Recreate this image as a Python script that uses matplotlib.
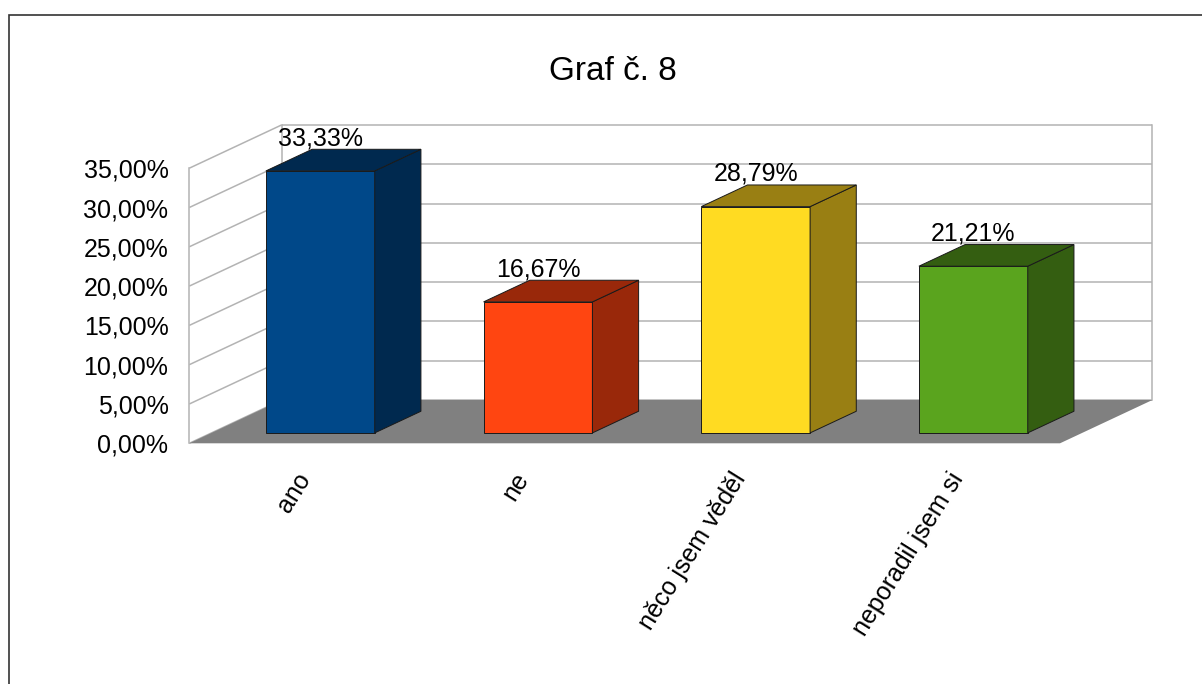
import matplotlib
matplotlib.use("Agg")
import matplotlib.pyplot as plt
from matplotlib.patches import Polygon, Rectangle
from matplotlib.transforms import offset_copy

# ---- data ----
categories = ["ano", "ne", "něco jsem věděl", "neporadil jsem si"]
values = [33.33, 16.67, 28.79, 21.21]
value_labels = ["33,33%", "16,67%", "28,79%", "21,21%"]
yticks = [0, 5, 10, 15, 20, 25, 30, 35]
ytick_labels = ["0,00%", "5,00%", "10,00%", "15,00%", "20,00%", "25,00%", "30,00%", "35,00%"]
title = "Graf č. 8"

# ---- style ----
front_colors = ["#004889", "#ff4511", "#ffdb22", "#5aa41e"]
dark_colors = ["#00294f", "#99280a", "#997f13", "#345e11"]
floor_color = "#808080"
grid_color = "#b3b3b3"
FONT = ["Liberation Sans", "DejaVu Sans"]
plt.rcParams["font.family"] = FONT

W_PX, H_PX = 1202, 684
fig = plt.figure(figsize=(W_PX / 100, H_PX / 100), dpi=100)

# front plane of the 3D box (pixel geometry of the reference)
x0_px, x1_px = 189.3, 1060.0
y0_px, y35_px = 443.3, 168.2
ax = fig.add_axes([x0_px / W_PX, 1 - y0_px / H_PX,
                   (x1_px - x0_px) / W_PX, (y0_px - y35_px) / H_PX])
ncat = len(categories)
ymax = 35
ax.set_xlim(0, ncat)
ax.set_ylim(0, ymax)
for s in ax.spines.values():
    s.set_visible(False)
ax.patch.set_visible(False)

px_per_x = (x1_px - x0_px) / ncat
px_per_y = (y0_px - y35_px) / ymax
DX = 92.4 / px_per_x      # depth offset (data units)
DY = 43.3 / px_per_y

# back wall / side wall gridlines
for t in yticks:
    ax.plot([DX, ncat + DX], [t + DY, t + DY], color=grid_color, lw=1.1,
            clip_on=False, zorder=1, solid_capstyle="butt")
    ax.plot([0, DX], [t, t + DY], color=grid_color, lw=1.1,
            clip_on=False, zorder=1, solid_capstyle="butt")
# wall edges
ax.plot([0, 0], [0, ymax], color=grid_color, lw=1.1, clip_on=False, zorder=1)
ax.plot([DX, DX], [DY, ymax + DY], color=grid_color, lw=1.1, clip_on=False, zorder=1)
ax.plot([ncat + DX, ncat + DX], [DY, ymax + DY], color=grid_color, lw=1.1,
        clip_on=False, zorder=1)

# floor
ax.add_patch(Polygon([(0, 0), (ncat, 0), (ncat + DX, DY), (DX, DY)],
                     closed=True, facecolor=floor_color, edgecolor="none",
                     clip_on=False, zorder=2))

# bars
z0, z1 = 0.24, 0.74
bw = 0.5
edge_kw = dict(edgecolor="#1a1a1a", linewidth=0.7, clip_on=False, zorder=3,
               joinstyle="miter")
lbl_tr = offset_copy(ax.transData, fig=fig, x=0, y=4, units="dots")
for i, v in enumerate(values):
    xl = i + (1 - bw) / 2 + z0 * DX
    xr = xl + bw
    yb = z0 * DY
    yt = v + z0 * DY
    ddx = (z1 - z0) * DX
    ddy = (z1 - z0) * DY
    ax.add_patch(Polygon([(xl, yb), (xr, yb), (xr, yt), (xl, yt)],
                         facecolor=front_colors[i], **edge_kw))
    ax.add_patch(Polygon([(xr, yb), (xr + ddx, yb + ddy), (xr + ddx, yt + ddy), (xr, yt)],
                         facecolor=dark_colors[i], **edge_kw))
    ax.add_patch(Polygon([(xl, yt), (xr, yt), (xr + ddx, yt + ddy), (xl + ddx, yt + ddy)],
                         facecolor=dark_colors[i], **edge_kw))
    ax.text((xl + xr) / 2, v + z1 * DY, value_labels[i], transform=lbl_tr,
            ha="center", va="baseline", fontsize=18, color="black", zorder=5)

# y tick labels
ax.set_yticks(yticks)
ax.set_yticklabels(ytick_labels)
ax.tick_params(axis="y", length=0, pad=15, labelsize=18)
ax.set_xticks([])

# category labels
cat_tr = offset_copy(ax.transData, fig=fig, x=-3, y=-25, units="dots")
for i, c in enumerate(categories):
    ax.text(i + 0.5, 0, c, transform=cat_tr, rotation=58, rotation_mode="anchor",
            ha="right", va="top", fontsize=18, color="black")

# title
fig.text(612.5 / W_PX, 1 - 80.5 / H_PX, title, ha="center", va="baseline",
         fontsize=24, color="black")

# outer frame
fig.add_artist(Rectangle((8.5 / W_PX, -0.1), 1.2, (H_PX - 14.5) / H_PX + 0.1,
                         transform=fig.transFigure, fill=False,
                         edgecolor="#333333", linewidth=1.2))

fig.savefig("out.png", dpi=100, facecolor="white")
